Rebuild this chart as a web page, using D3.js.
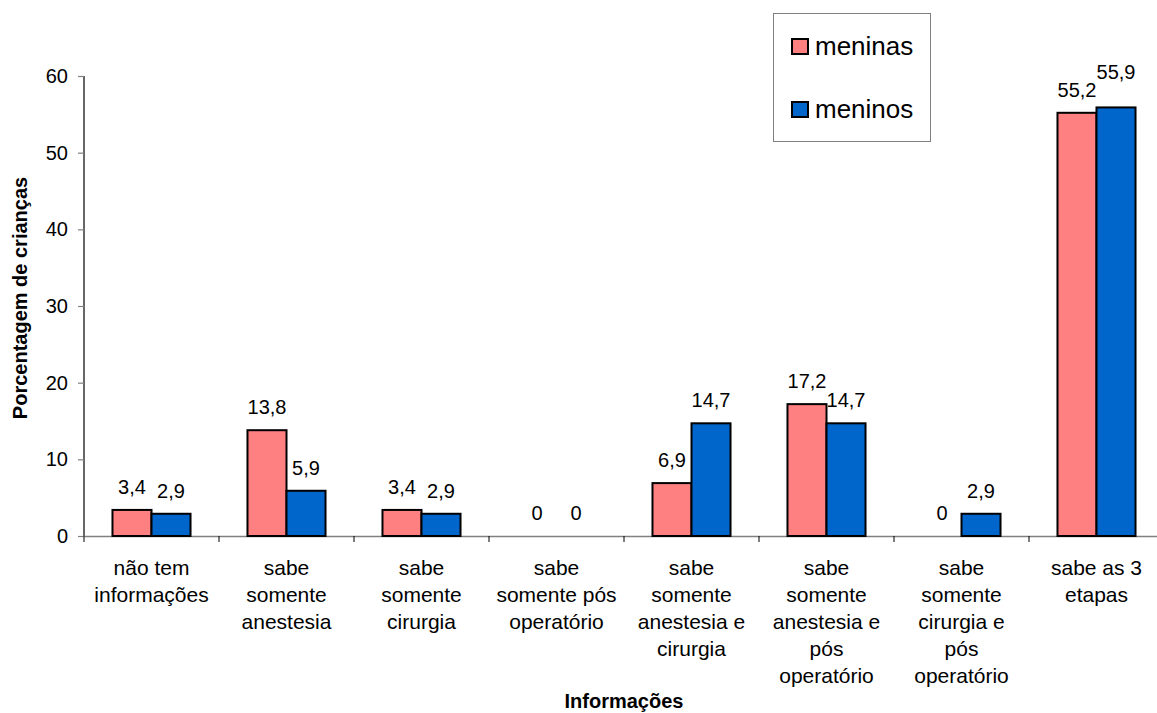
<!DOCTYPE html>
<html>
<head>
<meta charset="utf-8">
<script src="https://cdn.jsdelivr.net/npm/d3@7/dist/d3.min.js"></script>
<style>
  html, body { margin: 0; padding: 0; background: #fff; }
  svg { display: block; font-family: "Liberation Sans", Arial, sans-serif; }
</style>
</head>
<body>
<svg id="chart" width="1157" height="713"></svg>
<script>
const categories = [
  "não tem\ninformações",
  "sabe\nsomente\nanestesia",
  "sabe\nsomente\ncirurgia",
  "sabe\nsomente pós\noperatório",
  "sabe\nsomente\nanestesia e\ncirurgia",
  "sabe\nsomente\nanestesia e\npós\noperatório",
  "sabe\nsomente\ncirurgia e\npós\noperatório",
  "sabe as 3\netapas"
];
const seriesNames = ["meninas", "meninos"];
const meninas = [3.4, 13.8, 3.4, 0, 6.9, 17.2, 0, 55.2];
const meninos = [2.9, 5.9, 2.9, 0, 14.7, 14.7, 2.9, 55.9];
const seriesColors = ["#FF8080", "#0066CC"];
const yTicks = [0, 10, 20, 30, 40, 50, 60];
const yTitle = "Porcentagem de crianças";
const xTitle = "Informações";

const svg = d3.select("#chart");
const x0 = d3.scaleBand().domain(d3.range(categories.length)).range([84, 1164]).padding(0);
const x1 = d3.scaleBand().domain(seriesNames).range([0, x0.bandwidth()]).paddingInner(0).paddingOuter(0.73);
const y = d3.scaleLinear().domain([0, 60]).range([536, 76]);

const seriesData = [meninas, meninos];
const fmt = v => String(v).replace(".", ",");

// Y axis
const yAxis = svg.append("g").attr("transform", "translate(84,0)")
  .call(d3.axisLeft(y).tickValues(yTicks).tickSize(6).tickPadding(10).tickFormat(d => d));
yAxis.select(".domain").attr("stroke", "#000").attr("stroke-width", 1.2).attr("d", `M0,${y(60)}V${y(0)}`);
yAxis.selectAll(".tick line").attr("stroke", "#808080").attr("stroke-width", 1.2);
yAxis.selectAll(".tick text").attr("font-size", 20).attr("fill", "#000")
  .attr("font-family", '"Liberation Sans", Arial, sans-serif');

// X axis
const xAxis = svg.append("g").attr("transform", `translate(0,${y(0)})`)
  .call(d3.axisBottom(x0).tickSize(0).tickFormat(""));
xAxis.select(".domain").attr("stroke", "#808080").attr("stroke-width", 1.5);
xAxis.selectAll(".tick line").remove();
// category boundary ticks
svg.append("g").selectAll("line")
  .data(d3.range(categories.length))
  .join("line")
  .attr("x1", i => x0(i)).attr("x2", i => x0(i))
  .attr("y1", y(0)).attr("y2", y(0) + 6)
  .attr("stroke", "#000").attr("stroke-width", 1);

// Category labels
const catG = svg.append("g");
categories.forEach((c, i) => {
  const t = catG.append("text")
    .attr("x", x0(i) + x0.bandwidth() / 2)
    .attr("y", 575)
    .attr("text-anchor", "middle")
    .attr("font-size", 21)
    .attr("fill", "#000");
  c.split("\n").forEach((line, j) => {
    t.append("tspan").attr("x", x0(i) + x0.bandwidth() / 2).attr("dy", j === 0 ? 0 : 27).text(line);
  });
});

// Bars
const groups = svg.append("g").selectAll("g")
  .data(categories.map((c, i) => i))
  .join("g")
  .attr("transform", i => `translate(${x0(i)},0)`);

groups.selectAll("rect")
  .data(i => seriesNames.map((s, k) => ({ s, k, v: seriesData[k][i] })).filter(d => d.v > 0))
  .join("rect")
  .attr("x", d => x1(d.s))
  .attr("y", d => y(d.v))
  .attr("width", x1.bandwidth())
  .attr("height", d => y(0) - y(d.v))
  .attr("fill", d => seriesColors[d.k])
  .attr("stroke", "#000")
  .attr("stroke-width", 2);

// Value labels with simple collision avoidance
const labelG = svg.append("g");
categories.forEach((c, i) => {
  const placed = [];
  seriesNames.forEach((s, k) => {
    const v = seriesData[k][i];
    const cx = x0(i) + x1(s) + x1.bandwidth() / 2;
    let by = y(v) - 16;
    const t = labelG.append("text")
      .attr("x", cx).attr("y", by)
      .attr("text-anchor", "middle")
      .attr("font-size", 20)
      .attr("fill", "#000")
      .text(fmt(v));
    const w = t.node().getComputedTextLength();
    const h = 15;
    placed.forEach(p => {
      const hOverlap = Math.abs(cx - p.cx) < (w + p.w) / 2 + 6;
      const vOverlap = Math.abs(by - p.by) < h;
      if (hOverlap && vOverlap) {
        by = p.by - h - 3;
        t.attr("y", by);
      }
    });
    placed.push({ cx, by, w });
  });
});

// Axis titles
svg.append("text")
  .attr("x", 624).attr("y", 708)
  .attr("text-anchor", "middle")
  .attr("font-size", 20).attr("font-weight", "bold")
  .text(xTitle);

svg.append("text")
  .attr("transform", "translate(27,298) rotate(-90)")
  .attr("text-anchor", "middle")
  .attr("font-size", 20).attr("font-weight", "bold")
  .text(yTitle);

// Legend
const lg = svg.append("g");
lg.append("rect").attr("x", 773.5).attr("y", 13.5).attr("width", 157).attr("height", 128)
  .attr("fill", "#fff").attr("stroke", "#808080").attr("stroke-width", 1);
seriesNames.forEach((s, k) => {
  const yy = k === 0 ? 55 : 118;
  lg.append("rect").attr("x", 792).attr("y", yy - 16).attr("width", 16).attr("height", 15)
    .attr("fill", seriesColors[k]).attr("stroke", "#000").attr("stroke-width", 2);
  lg.append("text").attr("x", 815).attr("y", yy).attr("font-size", 26).attr("fill", "#000").text(s);
});
</script>
</body>
</html>
